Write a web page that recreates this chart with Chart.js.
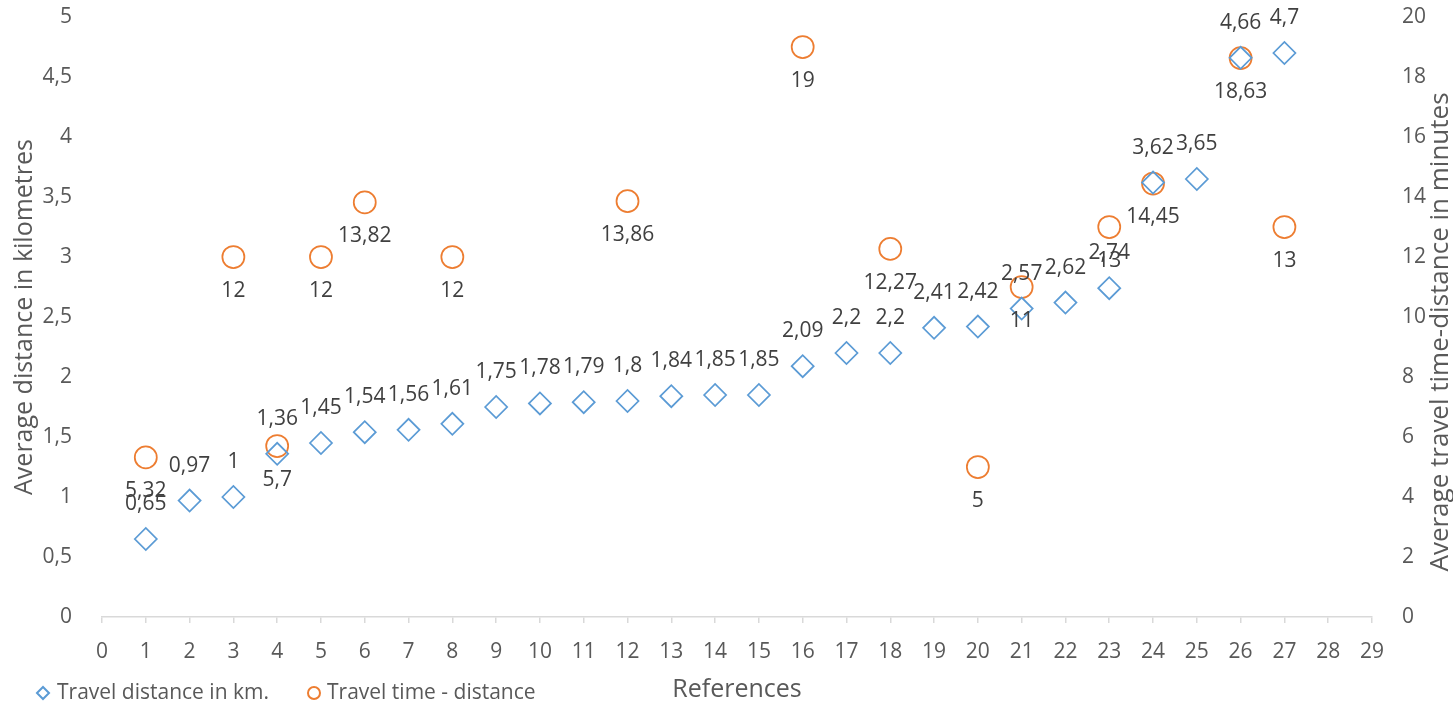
<!DOCTYPE html>
<html>
<head>
<meta charset="utf-8">
<script src="https://cdn.jsdelivr.net/npm/chart.js@4/dist/chart.umd.min.js"></script>
<style>
  html, body { margin: 0; padding: 0; background: #fff; }
  #wrap { width: 1453px; height: 706px; position: relative; }
</style>
</head>
<body>
<div id="wrap"><canvas id="chart"></canvas></div>
<script>
// ------------------------------------------------------------
// Datos
// ------------------------------------------------------------
const distanceRefs = [1, 2, 3, 4, 5, 6, 7, 8, 9, 10, 11, 12, 13, 14, 15, 16, 17, 18, 19, 20, 21, 22, 23, 24, 25, 26, 27];
const distanceKm = [0.65, 0.97, 1, 1.36, 1.45, 1.54, 1.56, 1.61, 1.75, 1.78, 1.79, 1.8, 1.84, 1.85, 1.85, 2.09, 2.2, 2.2, 2.41, 2.42, 2.57, 2.62, 2.74, 3.62, 3.65, 4.66, 4.7];

const timeRefs = [1, 3, 4, 5, 6, 8, 12, 16, 18, 20, 21, 23, 24, 26, 27];
const timeMinutes = [5.32, 12, 5.7, 12, 13.82, 12, 13.86, 19, 12.27, 5, 11, 13, 14.45, 18.63, 13];

const seriesNames = ['Travel distance in km.', 'Travel time - distance'];
const axisTitles = {
  x: 'References',
  left: 'Average distance in kilometres',
  right: 'Average travel time-distance in minutes'
};

const blue = '#5B9BD5';
const orange = '#ED7D31';
const tickColor = '#595959';
const labelColor = '#404040';
const axisLine = '#d9d9d9';
const fontFamily = "'Open Sans', sans-serif";

// coma decimal como en el original
const fmt = (v) => String(v).replace('.', ',');

// ------------------------------------------------------------
// Etiquetas de datos: azul arriba, naranja abajo
// ------------------------------------------------------------
const dataLabels = {
  id: 'dataLabels',
  afterDatasetsDraw(chart) {
    const { ctx } = chart;
    ctx.save();
    ctx.font = `21px ${fontFamily}`;
    ctx.fillStyle = labelColor;
    ctx.textAlign = 'center';
    ctx.textBaseline = 'middle';
    chart.data.datasets.forEach((ds, i) => {
      const meta = chart.getDatasetMeta(i);
      const dy = i === 0 ? -35 : 34;
      meta.data.forEach((pt, j) => {
        ctx.fillText(fmt(ds.data[j].y), pt.x, pt.y + dy);
      });
    });
    ctx.restore();
  }
};

// ------------------------------------------------------------
// Leyenda abajo a la izquierda + título del eje derecho
// (en el original el título derecho está algo más abajo que el centro)
// ------------------------------------------------------------
const extras = {
  id: 'extras',
  afterDraw(chart) {
    const { ctx } = chart;
    const y = 693;
    ctx.save();
    ctx.lineWidth = 2;

    ctx.strokeStyle = blue;
    ctx.beginPath();
    ctx.moveTo(43 - 6, y);
    ctx.lineTo(43, y - 6);
    ctx.lineTo(43 + 6, y);
    ctx.lineTo(43, y + 6);
    ctx.closePath();
    ctx.stroke();

    ctx.strokeStyle = orange;
    ctx.beginPath();
    ctx.arc(314, y, 6, 0, Math.PI * 2);
    ctx.stroke();

    ctx.font = `21px ${fontFamily}`;
    ctx.fillStyle = tickColor;
    ctx.textAlign = 'left';
    ctx.textBaseline = 'middle';
    ctx.fillText(seriesNames[0], 57, y);
    ctx.fillText(seriesNames[1], 327, y);

    // título eje derecho, girado
    ctx.translate(1441, 332);
    ctx.rotate(-Math.PI / 2);
    ctx.font = `26px ${fontFamily}`;
    ctx.textAlign = 'center';
    ctx.fillText(axisTitles.right, 0, 0);
    ctx.restore();
  }
};

// el área del gráfico arranca en y=17 como en el original
const fitY = (w) => (scale) => {
  scale.width = w;
  scale.paddingTop = 0;
  scale.paddingBottom = 0;
};

const ctx = document.getElementById('chart');

new Chart(ctx, {
  type: 'scatter',
  data: {
    datasets: [
      {
        label: seriesNames[0],
        data: distanceRefs.map((x, i) => ({ x, y: distanceKm[i] })),
        yAxisID: 'y',
        pointStyle: 'rectRot',
        pointRadius: 11,
        pointHoverRadius: 11,
        borderColor: blue,
        backgroundColor: 'rgba(0,0,0,0)',
        pointBorderWidth: 1.75
      },
      {
        label: seriesNames[1],
        data: timeRefs.map((x, i) => ({ x, y: timeMinutes[i] })),
        yAxisID: 'y2',
        pointStyle: 'circle',
        pointRadius: 11,
        pointHoverRadius: 11,
        borderColor: orange,
        backgroundColor: 'rgba(0,0,0,0)',
        pointBorderWidth: 1.75
      }
    ]
  },
  options: {
    responsive: true,
    maintainAspectRatio: false,
    animation: false,
    layout: { padding: { top: 17, left: 0, right: 0, bottom: 0 } },
    plugins: {
      legend: { display: false },
      tooltip: { enabled: false }
    },
    scales: {
      x: {
        type: 'linear',
        position: 'bottom',
        min: 0,
        max: 29,
        ticks: {
          stepSize: 1,
          color: tickColor,
          font: { family: fontFamily, size: 21 },
          padding: 16,
          maxRotation: 0,
          autoSkip: false
        },
        grid: {
          drawOnChartArea: false,
          drawTicks: true,
          tickLength: 6,
          color: axisLine,
          lineWidth: 1.5
        },
        border: { display: true, color: axisLine, width: 1.5 },
        title: {
          display: true,
          text: axisTitles.x,
          color: tickColor,
          font: { family: fontFamily, size: 25 },
          padding: { top: 0, bottom: 1 }
        },
        afterFit: (scale) => { scale.height = 89; }
      },
      y: {
        position: 'left',
        min: 0,
        max: 5,
        ticks: {
          stepSize: 0.5,
          color: tickColor,
          font: { family: fontFamily, size: 21 },
          padding: 22,
          callback: (v) => fmt(v)
        },
        grid: { display: false },
        border: { display: false },
        title: {
          display: true,
          text: axisTitles.left,
          color: tickColor,
          font: { family: fontFamily, size: 25 },
          padding: { top: 10, bottom: 0 }
        },
        afterFit: fitY(102)
      },
      y2: {
        position: 'right',
        min: 0,
        max: 20,
        ticks: {
          stepSize: 2,
          color: tickColor,
          font: { family: fontFamily, size: 21 },
          padding: 22
        },
        grid: { display: false },
        border: { display: false },
        title: { display: false },
        afterFit: fitY(81)
      }
    }
  },
  plugins: [dataLabels, extras]
});
</script>
</body>
</html>
